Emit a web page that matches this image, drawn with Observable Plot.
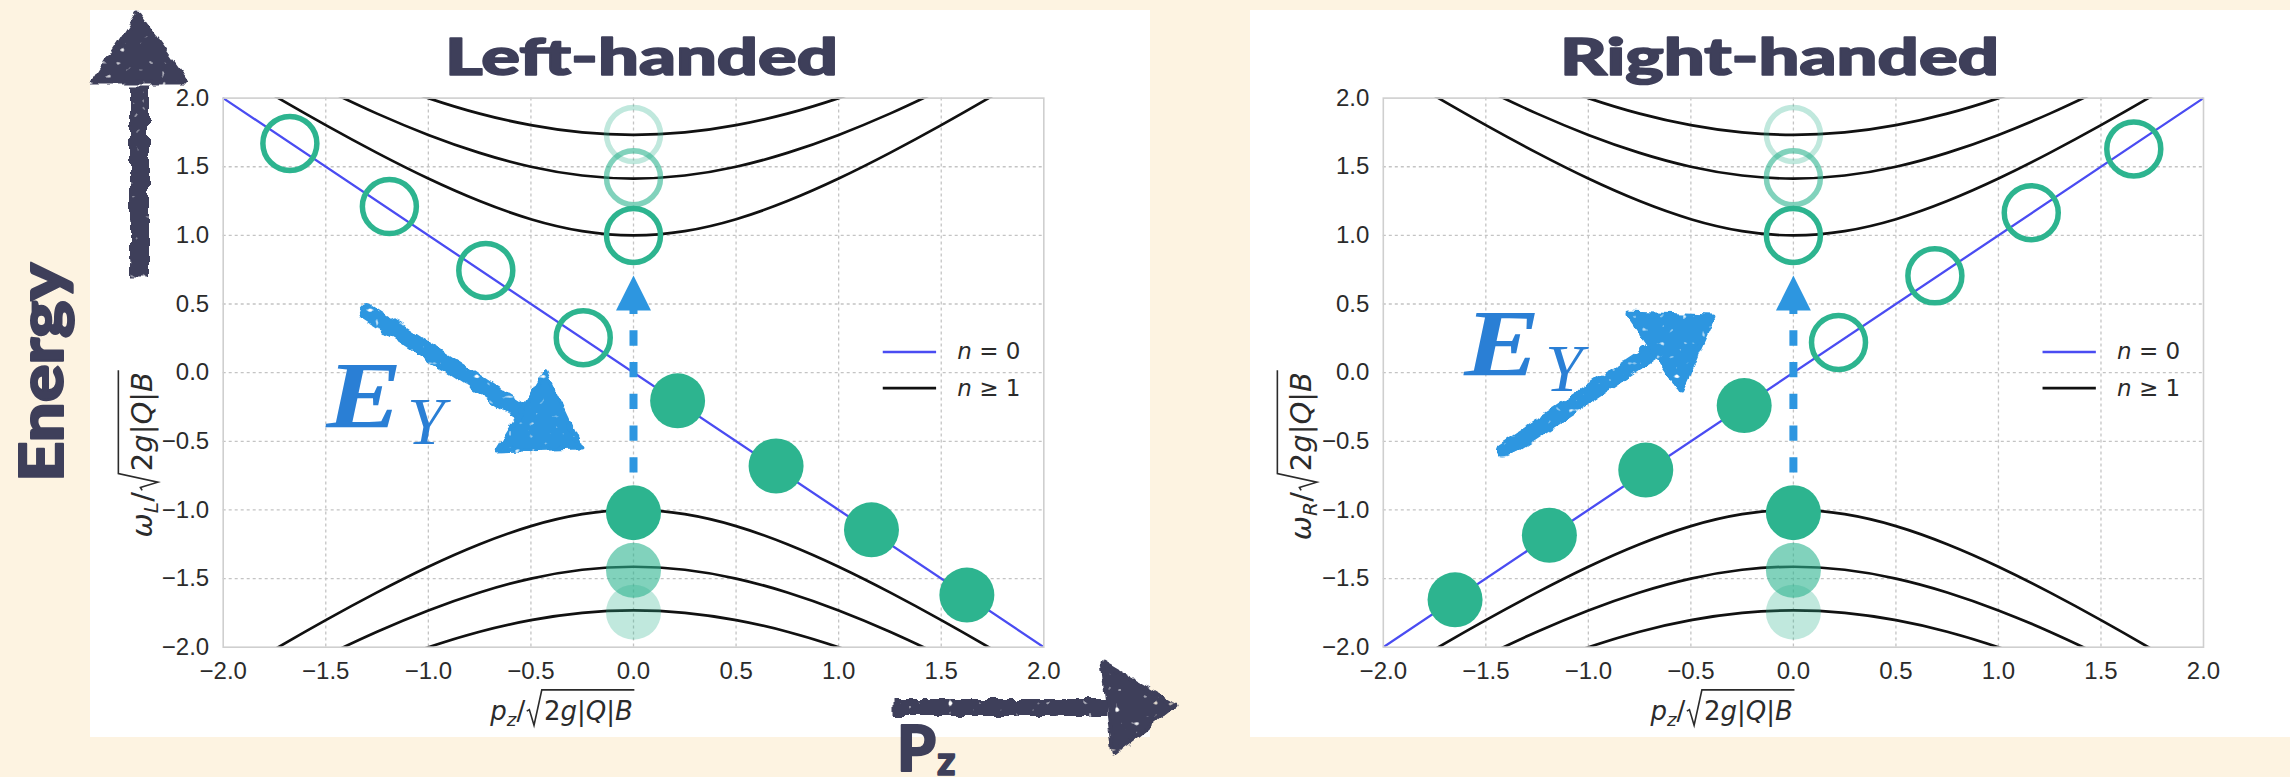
<!DOCTYPE html>
<html><head><meta charset="utf-8">
<script src="https://cdn.jsdelivr.net/npm/d3@7"></script>
<script src="https://cdn.jsdelivr.net/npm/@observablehq/plot@0.6"></script>
<style>
html,body{margin:0;padding:0;background:#fdf3e1;}
#page{position:relative;width:2290px;height:777px;overflow:hidden;background:#fdf3e1;}
.panel{position:absolute;background:#ffffff;}
.layer{position:absolute;top:0;height:777px;}
.layer svg{display:block;overflow:visible;}
</style></head><body>
<svg width="0" height="0" style="position:absolute">
 <defs>
  <filter id="rough" filterUnits="userSpaceOnUse" x="-100" y="-100" width="2500" height="1000" color-interpolation-filters="sRGB">
   <feTurbulence type="fractalNoise" baseFrequency="0.08" numOctaves="2" seed="3" result="n1"/>
   <feDisplacementMap in="SourceGraphic" in2="n1" scale="9" xChannelSelector="R" yChannelSelector="G" result="d"/>
   <feTurbulence type="fractalNoise" baseFrequency="0.15" numOctaves="1" seed="11" result="n2"/>
   <feColorMatrix in="n2" type="matrix" values="0 0 0 0 0  0 0 0 0 0  0 0 0 0 0  -10 0 0 0 7.9" result="m"/>
   <feComposite in="d" in2="m" operator="in"/>
  </filter>
 </defs>
</svg>
<div id="page">
 <div class="panel" style="left:90px;top:10px;width:1060px;height:727px"></div>
 <div class="panel" style="left:1250px;top:10px;width:1040px;height:727px"></div>
 <div id="leftPlot" class="layer" style="left:0;width:1200px"></div>
 <div id="rightPlot" class="layer" style="left:1200px;width:1090px"></div>
 <div id="overlay" class="layer" style="left:0;width:2290px"></div>
</div>
<script>
// ---------- data ----------
const pzGrid = [-2,-1.75,-1.5,-1.25,-1,-0.75,-0.5,-0.25,0,0.25,0.5,0.75,1,1.25,1.5,1.75,2];
const omegaN1 = [2.236,2.016,1.803,1.601,1.414,1.25,1.118,1.031,1,1.031,1.118,1.25,1.414,1.601,1.803,2.016,2.236];
const omegaN2 = [2.449,2.25,2.062,1.887,1.732,1.601,1.5,1.436,1.414,1.436,1.5,1.601,1.732,1.887,2.062,2.25,2.449];
const omegaN3 = [2.646,2.462,2.291,2.136,2.0,1.887,1.803,1.75,1.732,1.75,1.803,1.887,2.0,2.136,2.291,2.462,2.646];
const pzLowest = [-2, 2];
const omegaLowestL = [2, -2];
const omegaLowestR = [-2, 2];
const leftEmptyPz = [-1.675,-1.19,-0.72,-0.245];
const leftEmptyOmega = [1.67,1.21,0.745,0.255];
const leftFilledPz = [0.215,0.695,1.16,1.625];
const leftFilledOmega = [-0.205,-0.68,-1.145,-1.62];
const rightEmptyPz = [0.22,0.69,1.16,1.66];
const rightEmptyOmega = [0.22,0.705,1.165,1.63];
const rightFilledPz = [-0.24,-0.72,-1.19,-1.65];
const rightFilledOmega = [-0.24,-0.71,-1.185,-1.655];
const gapOmegaUpper = [1.0, 1.42, 1.735];
const gapOmegaLower = [-1.02, -1.44, -1.745];
const gapOpacity = [1, 0.6, 0.3];
const tickValues = [-2,-1.5,-1,-0.5,0,0.5,1,1.5,2];
const legendSymbol = ["n", "n"];
const legendRelation = ["= 0", "\u2265 1"];
const titles = ["Left-handed", "Right-handed"];
const yLabelSubs = ["L", "R"];

// ---------- styles ----------
const GREEN = "#2db48f", LINEBLUE = "#4a4cf2", ARROWBLUE = "#2d96e0", TEXTBLUE = "#2a7fd5", NAVY = "#3e3f5a", INK = "#2b2b2b";
const fmt = d3.format(".1f");

const levelRows = [];
[omegaN1, omegaN2, omegaN3].forEach((arr, k) => {
  pzGrid.forEach((p, i) => levelRows.push({x: p, y: arr[i], key: "u" + k}));
  pzGrid.forEach((p, i) => levelRows.push({x: p, y: -arr[i], key: "l" + k}));
});
const pts = (xs, ys) => xs.map((x, i) => ({x, y: ys[i]}));

function bandPlot({width, marginLeft, marginRight, lowest, empty, filled, eyShaft, eyHead}) {
  const gapUpper = gapOmegaUpper.map((y, i) => ({x: 0, y, o: gapOpacity[i]}));
  const gapLower = gapOmegaLower.map((y, i) => ({x: 0, y, o: gapOpacity[i]}));
  const legendRows = legendSymbol.map((s, i) => ({s, r: legendRelation[i], c: i === 0 ? LINEBLUE : "#111", y: i === 0 ? 0.15 : -0.113}));
  const dashHead = [{x:-0.0853,y:0.452},{x:0.0853,y:0.452},{x:0,y:0.708},{x:-0.0853,y:0.452}];
  return Plot.plot({
    width, height: 777, marginLeft, marginRight, marginTop: 97.6, marginBottom: 130.3,
    style: {background: "transparent", overflow: "visible", fontFamily: "'Liberation Sans', Arial, sans-serif", fontSize: "24px", color: INK},
    x: {domain: [-2, 2], ticks: tickValues, tickFormat: fmt, tickSize: 0, tickPadding: 15, label: null},
    y: {domain: [-2, 2], ticks: tickValues, tickFormat: fmt, tickSize: 0, tickPadding: 14, label: null},
    opacity: {domain: [0, 1], range: [0, 1]},
    marks: [
      Plot.ruleX(tickValues.slice(1, -1), {stroke: "#c4c4c4", strokeWidth: 1.3, strokeDasharray: "3,3"}),
      Plot.ruleY(tickValues.slice(1, -1), {stroke: "#c4c4c4", strokeWidth: 1.3, strokeDasharray: "3,3"}),
      Plot.line(levelRows, {x: "x", y: "y", z: "key", stroke: "#111", strokeWidth: 2.7, curve: "natural", clip: true}),
      Plot.line(lowest, {x: "x", y: "y", stroke: LINEBLUE, strokeWidth: 2.3, clip: true}),
      Plot.frame({stroke: "#cfcfcf", strokeWidth: 1.6}),
      Plot.dot(empty, {x: "x", y: "y", r: 27, stroke: GREEN, strokeWidth: 5.5, fill: "none"}),
      Plot.dot(filled, {x: "x", y: "y", r: 27.5, fill: GREEN, stroke: "none"}),
      Plot.dot(gapUpper, {x: "x", y: "y", r: 27, stroke: GREEN, strokeWidth: 5.5, fill: "none", strokeOpacity: "o"}),
      Plot.dot(gapLower, {x: "x", y: "y", r: 27.5, fill: GREEN, stroke: "none", fillOpacity: "o"}),
      Plot.link([{x: 0, y1: -0.727, y2: 0.47}], {x1: "x", x2: "x", y1: "y1", y2: "y2", stroke: ARROWBLUE, strokeWidth: 8, strokeDasharray: "15.3,16.4"}),
      Plot.line(dashHead, {x: "x", y: "y", fill: ARROWBLUE, stroke: "none"}),
      Plot.link(eyShaft, {x1: "x1", y1: "y1", x2: "x2", y2: "y2", stroke: ARROWBLUE, strokeWidth: 17, strokeLinecap: "round", ariaDescription: "sketch"}),
      Plot.line(eyHead, {x: "x", y: "y", fill: ARROWBLUE, stroke: ARROWBLUE, strokeWidth: 4, ariaDescription: "sketch"}),
      Plot.link(legendRows, {x1: () => 1.215, x2: () => 1.475, y1: "y", y2: "y", stroke: "c", strokeWidth: 2.6}),
      Plot.text(legendRows, {x: () => 1.578, y: "y", text: "s", textAnchor: "start", fontFamily: "DejaVu Sans", fontSize: 23, fontStyle: "italic", fill: INK}),
      Plot.text(legendRows, {x: () => 1.578, y: "y", text: "r", dx: 22, textAnchor: "start", fontFamily: "DejaVu Sans", fontSize: 23, fill: INK})
    ]
  });
}

const leftSvg = bandPlot({
  width: 1200, marginLeft: 222.7, marginRight: 156.7,
  lowest: pts(pzLowest, omegaLowestL),
  empty: pts(leftEmptyPz, leftEmptyOmega),
  filled: pts(leftFilledPz, leftFilledOmega),
  eyShaft: [{x1: -1.297, y1: 0.438, x2: -0.546, y2: -0.283}],
  eyHead: [{x:-0.429,y:0.0015},{x:-0.663,y:-0.567},{x:-0.258,y:-0.545},{x:-0.429,y:0.0015}]
});
const rightSvg = bandPlot({
  width: 1090, marginLeft: 182.8, marginRight: 87,
  lowest: pts(pzLowest, omegaLowestR),
  empty: pts(rightEmptyPz, rightEmptyOmega),
  filled: pts(rightFilledPz, rightFilledOmega),
  eyShaft: [{x1: -1.414, y1: -0.567, x2: -0.682, y2: 0.154}],
  eyHead: [{x:-0.809,y:0.431},{x:-0.390,y:0.409},{x:-0.551,y:-0.130},{x:-0.809,y:0.431}]
});
document.getElementById("leftPlot").appendChild(leftSvg);
document.getElementById("rightPlot").appendChild(rightSvg);

// ---------- page-level decorations (page pixel coordinates) ----------
const bigShafts = [{x1: 139, y1: 277, x2: 139, y2: 86, w: 19}, {x1: 893, y1: 707, x2: 1106, y2: 707, w: 17}];
const energyHead = [[92,82],[187,82],[137,13],[92,82]];
const pzHead = [[1102,662],[1113,753],[1175,705],[1102,662]];
const overlaySvg = Plot.plot({
  width: 2290, height: 777, margin: 0,
  x: {domain: [0, 2290], range: [0, 2290], axis: null},
  y: {domain: [0, 777], range: [0, 777], axis: null},
  style: {background: "transparent", overflow: "visible"},
  marks: [
    Plot.link(bigShafts, {x1: "x1", y1: "y1", x2: "x2", y2: "y2", stroke: NAVY, strokeWidth: "w", ariaDescription: "sketch"}),
    Plot.line(energyHead, {x: d => d[0], y: d => d[1], fill: NAVY, stroke: NAVY, strokeWidth: 4, ariaDescription: "sketch"}),
    Plot.line(pzHead, {x: d => d[0], y: d => d[1], fill: NAVY, stroke: NAVY, strokeWidth: 4, ariaDescription: "sketch"})
  ]
});
document.getElementById("overlay").appendChild(overlaySvg);
const ov = d3.select(overlaySvg);
document.querySelectorAll('g[aria-description="sketch"]').forEach(g => g.setAttribute("filter", "url(#rough)"));

// headline text, stretched to the widths seen in the picture
function headline(x, y, str, size, len, opts = {}) {
  const t = ov.append("text").attr("x", x).attr("y", y).text(str)
    .attr("font-family", "Lato, 'Open Sans', sans-serif").attr("font-weight", 900)
    .attr("font-size", size).attr("fill", NAVY)
    .attr("stroke", NAVY).attr("stroke-width", opts.sw || 1.6).attr("stroke-linejoin", "round")
    .attr("text-anchor", opts.anchor || "start");
  if (len) t.attr("textLength", len).attr("lengthAdjust", "spacingAndGlyphs");
  if (opts.rotate) t.attr("transform", `rotate(${opts.rotate},${x},${y})`);
  return t;
}
headline(445, 75, titles[0], 51, 393);
headline(1560, 75, titles[1], 51, 439);
headline(63, 372.5, "Energy", 60, 219, {anchor: "middle", rotate: -90, sw: 2});
headline(897, 771, "P", 62, null, {sw: 2});
headline(937, 775, "z", 40, null, {sw: 1.5});

// E_Y annotations (ink left edge, baseline)
function eLabel(x, y, ySub) {
  const e = ov.append("text").attr("x", 0).attr("y", 0).text("E")
    .attr("font-family", "'Liberation Serif', 'DejaVu Serif', serif").attr("font-style", "italic").attr("font-weight", 700)
    .attr("font-size", 95).attr("fill", TEXTBLUE);
  const bb = e.node().getBBox();
  const sx = 77 / bb.width;
  e.attr("transform", `translate(${x - bb.x * sx},${y}) scale(${sx},1)`);
  const yt = ov.append("text").attr("x", 0).attr("y", 0).text("Y")
    .attr("font-family", "'Liberation Serif', 'DejaVu Serif', serif").attr("font-style", "italic")
    .attr("font-size", 68).attr("fill", TEXTBLUE);
  const bb2 = yt.node().getBBox();
  yt.attr("transform", `translate(${x + 82 - bb2.x},${ySub})`);
}
eLabel(325, 428, 444);
eLabel(1463, 376, 391);

// axis labels with a radical
function mathLabel({sym, sub, size, cx, cy, rotate}) {
  const g = ov.append("g").attr("transform", rotate ? `translate(${cx},${cy}) rotate(-90)` : `translate(${cx},${cy})`);
  const t = g.append("text").attr("x", 0).attr("y", 0).attr("font-family", "'DejaVu Sans', sans-serif")
    .attr("font-size", size).attr("fill", INK);
  t.append("tspan").attr("font-style", "italic").text(sym);
  t.append("tspan").attr("font-style", "italic").attr("font-size", size * 0.7).attr("dy", size * 0.22).text(sub);
  t.append("tspan").attr("dy", -size * 0.22).text("/");
  t.append("tspan").attr("dx", size * 0.72).text("2");
  t.append("tspan").attr("font-style", "italic").text("g");
  t.append("tspan").text("|");
  t.append("tspan").attr("font-style", "italic").text("Q");
  t.append("tspan").text("|");
  t.append("tspan").attr("font-style", "italic").text("B");
  const n = t.node();
  const total = n.getEndPositionOfChar(8).x - n.getStartPositionOfChar(0).x;
  t.attr("x", -total / 2);
  const slashEnd = n.getEndPositionOfChar(2).x;
  const twoStart = n.getStartPositionOfChar(3).x;
  const end = n.getEndPositionOfChar(8).x;
  const s = size;
  const top = -1.16 * s;
  const path = d3.path();
  path.moveTo(slashEnd + 0.06 * s, -0.34 * s);
  path.lineTo(slashEnd + 0.16 * s, -0.40 * s);
  path.lineTo(slashEnd + 0.34 * s, 0.2 * s);
  path.lineTo(twoStart - 0.08 * s, top);
  path.lineTo(end + 0.06 * s, top);
  g.append("path").attr("d", path.toString()).attr("fill", "none").attr("stroke", INK).attr("stroke-width", 1.6).attr("stroke-linejoin", "miter");
}
mathLabel({sym: "p", sub: "z", size: 26, cx: 632.8, cy: 720});
mathLabel({sym: "p", sub: "z", size: 26, cx: 1792.9, cy: 720});
mathLabel({sym: "\u03C9", sub: yLabelSubs[0], size: 29, cx: 152, cy: 372, rotate: true});
mathLabel({sym: "\u03C9", sub: yLabelSubs[1], size: 29, cx: 1311, cy: 372, rotate: true});
</script>
</body></html>
